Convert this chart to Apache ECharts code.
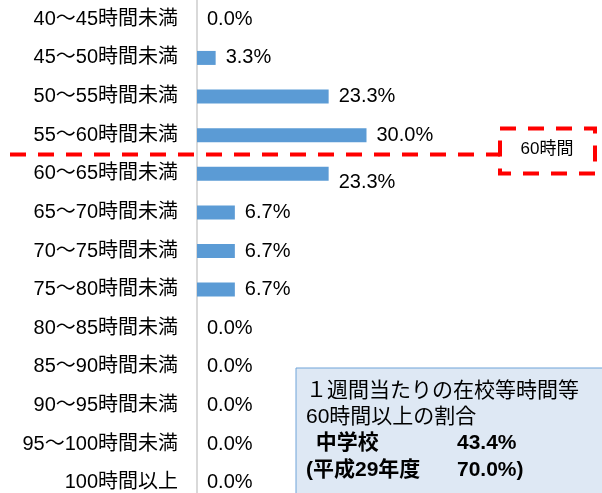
<!DOCTYPE html>
<html>
<head>
<meta charset="utf-8">
<script src="https://cdn.jsdelivr.net/npm/echarts@6/dist/echarts.min.js"></script>
<style>
  html, body { margin: 0; padding: 0; background: #fff; }
  #chart { width: 602px; height: 493px; }
</style>
</head>
<body>
<div id="chart"></div>
<script>
const categories = [
  '40～45時間未満', '45～50時間未満', '50～55時間未満', '55～60時間未満',
  '60～65時間未満', '65～70時間未満', '70～75時間未満', '75～80時間未満',
  '80～85時間未満', '85～90時間未満', '90～95時間未満', '95～100時間未満',
  '100時間以上'
]
const values = [0.0, 3.3, 23.3, 30.0, 23.3, 6.7, 6.7, 6.7, 0.0, 0.0, 0.0, 0.0, 0.0]
const noteLines = ['１週間当たりの在校等時間等', '60時間以上の割合']
const noteRows = [[' 中学校', '43.4%'], ['(平成29年度', '70.0%)']]
const lineLabel = '60時間'

const font = '"Liberation Sans", "Noto Sans CJK JP", sans-serif'
const chart = echarts.init(document.getElementById('chart'))

chart.setOption({
  animation: false,
  grid: { left: 197, top: 0, width: 226, height: 502, outerBoundsMode: 'none' },
  xAxis: { type: 'value', min: 0, max: 40, show: false },
  yAxis: {
    type: 'category',
    inverse: true,
    data: categories,
    axisLine: { show: true, lineStyle: { color: '#d9d9d9', width: 2 } },
    axisTick: { show: false },
    axisLabel: { color: '#000', fontSize: 20, fontFamily: font, margin: 19 }
  },
  series: [{
    type: 'bar',
    barWidth: 14,
    itemStyle: { color: '#5b9bd5' },
    label: {
      show: true,
      position: 'right',
      distance: 10,
      color: '#000',
      fontSize: 20,
      fontFamily: font,
      formatter: (p) => p.value.toFixed(1) + '%'
    },
    data: values.map((v, i) => i === 4 ? { value: v, label: { offset: [0, 9] } } : v)
  }]
})

// 60時間 boundary line between 55～60 and 60～65
const y3 = chart.convertToPixel({ yAxisIndex: 0 }, categories[3])
const y4 = chart.convertToPixel({ yAxisIndex: 0 }, categories[4])
const ly = (y3 + y4) / 2
const dash = { stroke: '#ff0000', lineWidth: 4, lineDash: [16, 12] }
const txt = (x, y, text, bold) => ({
  type: 'text', x, y, z: 11,
  style: { text, fill: '#000', font: (bold ? 'bold ' : '') + '21px ' + font, verticalAlign: 'middle' }
})

chart.setOption({
  graphic: [
    { type: 'line', shape: { x1: 10, y1: ly, x2: 500, y2: ly }, style: dash, z: 10 },
    { type: 'rect', shape: { x: 500, y: ly - 26, width: 95, height: 45 }, style: Object.assign({ fill: 'rgba(0,0,0,0)' }, dash), z: 10 },
    { type: 'text', x: 547, y: ly - 5, style: { text: lineLabel, fill: '#000', font: '17px ' + font, align: 'center', verticalAlign: 'middle' }, z: 11 },
    { type: 'rect', shape: { x: 296, y: 368, width: 320, height: 140 }, style: { fill: '#dee8f4', stroke: '#6fa3d8', lineWidth: 1 }, z: 10 },
    txt(306, 391, noteLines[0], false),
    txt(306, 417, noteLines[1], false),
    txt(310, 443, noteRows[0][0], true),
    txt(457, 443, noteRows[0][1], true),
    txt(306, 470, noteRows[1][0], true),
    txt(457, 470, noteRows[1][1], true)
  ]
})
</script>
</body>
</html>
